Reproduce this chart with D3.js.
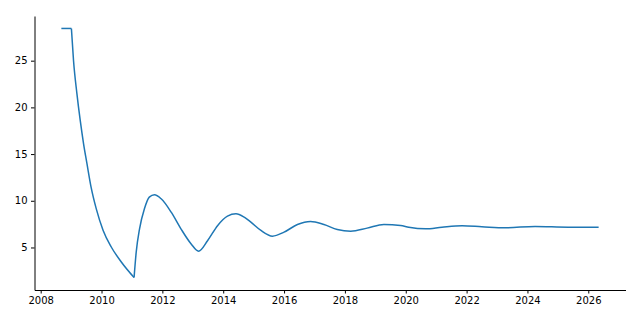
<!DOCTYPE html>
<html>
<head>
<meta charset="utf-8">
<script src="https://cdn.jsdelivr.net/npm/d3@7"></script>
<style>
  body { margin: 0; background: #fff; }
  .axis text { font-family: "DejaVu Sans", sans-serif; font-size: 10px; fill: #000; }
  .axis path, .axis line { stroke: #000; stroke-width: 1; }
</style>
</head>
<body>
<div class="chart"></div>
<script>
// values
var years = [2008.68, 2009.01, 2009.08, 2009.19, 2009.30, 2009.41, 2009.52, 2009.66, 2009.83,
  2010.05, 2010.32, 2010.65, 2011.07,
  2011.14, 2011.25, 2011.41, 2011.57, 2011.74, 2011.96, 2012.29, 2012.61, 2012.94, 2013.19,
  2013.49, 2013.82, 2014.14, 2014.42, 2014.69, 2014.91, 2015.24, 2015.62, 2016.00, 2016.44,
  2016.87, 2017.31, 2017.75, 2018.19, 2018.73, 2019.28, 2019.83, 2020.10, 2020.65, 2021.19,
  2021.85, 2022.50, 2023.27, 2024.25, 2025.34, 2026.34];
var values = [28.45, 28.45, 25.0, 21.5, 18.6, 16.1, 14.0, 11.4, 9.1,
  6.85, 5.05, 3.45, 1.78,
  4.5, 7.0, 9.14, 10.39, 10.64, 10.21, 8.78, 7.0, 5.4, 4.6,
  5.75, 7.36, 8.35, 8.6, 8.24, 7.71, 6.82, 6.21, 6.64, 7.46,
  7.78, 7.46, 6.93, 6.75, 7.07, 7.46, 7.36, 7.17, 7.0, 7.17,
  7.32, 7.22, 7.11, 7.25, 7.17, 7.17];
// corners where the line bends sharply
var kinkYears = [2009.01, 2011.07];
var xTicks = [2008, 2010, 2012, 2014, 2016, 2018, 2020, 2022, 2024, 2026];
var yTicks = [5, 10, 15, 20, 25];

var svgWidth = 640;
var svgHeight = 320;
var margin = { top: 16, right: 14.5, bottom: 30, left: 34.5 };
var width = svgWidth - margin.left - margin.right;
var height = svgHeight - margin.top - margin.bottom;

var svg = d3.select(".chart")
  .append("svg")
  .attr("width", svgWidth)
  .attr("height", svgHeight);

var chartGroup = svg.append("g")
  .attr("transform", `translate(${margin.left}, ${margin.top})`);

var data = years.map((y, i) => ({ year: y, value: values[i] }));

// matplotlib style 5% padding
var xExt = d3.extent(years), yExt = d3.extent(values);
var xPad = (xExt[1] - xExt[0]) * 0.05, yPad = (yExt[1] - yExt[0]) * 0.05;

var xScale = d3.scaleLinear()
  .domain([xExt[0] - xPad, xExt[1] + xPad])
  .range([0, width]);
var yScale = d3.scaleLinear()
  .domain([yExt[0] - yPad, yExt[1] + yPad])
  .range([height, 0]);

var bottomAxis = d3.axisBottom(xScale).tickValues(xTicks).tickFormat(d3.format("d"))
  .tickSizeInner(3.5).tickSizeOuter(0).tickPadding(3.5);
var leftAxis = d3.axisLeft(yScale).tickValues(yTicks).tickFormat(d3.format("d"))
  .tickSizeInner(3.5).tickSizeOuter(0).tickPadding(3.5);

chartGroup.append("g")
  .attr("class", "axis")
  .attr("transform", `translate(0, ${height})`)
  .call(bottomAxis);
chartGroup.append("g")
  .attr("class", "axis")
  .call(leftAxis);

// split at the corners so the smoothing does not round them off
var pieces = [];
var cur = [];
data.forEach(d => {
  cur.push(d);
  if (kinkYears.indexOf(d.year) >= 0) {
    pieces.push(cur);
    cur = [d];
  }
});
pieces.push(cur);

var line = d3.line()
  .x(d => xScale(d.year))
  .y(d => yScale(d.value))
  .curve(d3.curveMonotoneX);

chartGroup.selectAll(".series")
  .data(pieces)
  .enter()
  .append("path")
  .attr("class", "series")
  .attr("d", line)
  .attr("fill", "none")
  .attr("stroke", "#1f77b4")
  .attr("stroke-width", 1.5)
  .attr("stroke-linejoin", "round")
  .attr("stroke-linecap", "butt");
</script>
</body>
</html>
